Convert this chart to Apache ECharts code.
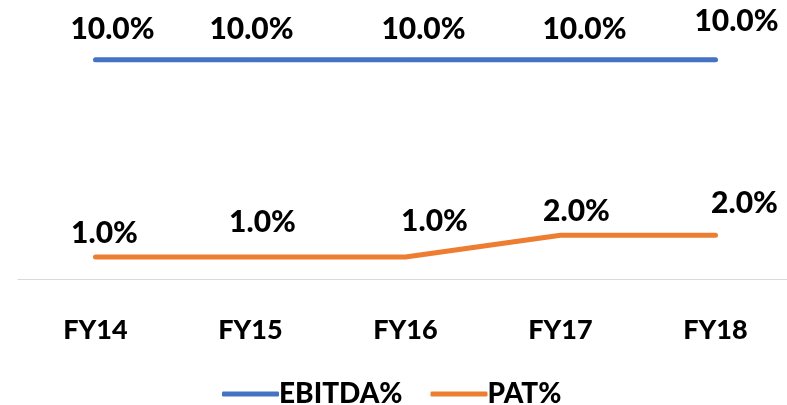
<!DOCTYPE html>
<html>
<head>
<meta charset="utf-8">
<script src="https://cdn.jsdelivr.net/npm/echarts@6/dist/echarts.min.js"></script>
<style>
  html, body { margin: 0; padding: 0; background: #fff; }
  #chart { width: 787px; height: 405px; }
</style>
</head>
<body>
<div id="chart"></div>
<script>
// data
const years = ['FY14', 'FY15', 'FY16', 'FY17', 'FY18']
const ebitdaPct = [10.0, 10.0, 10.0, 10.0, 10.0]
const patPct = [1.0, 1.0, 1.0, 2.0, 2.0]

// hand placed labels in the original, nudges in px from each point
const ebitdaNudge = [[17, -31], [1, -31], [18, -31], [24, -31], [21, -39]]
const patNudge = [[9, -24], [12, -35], [29, -36], [16, -24], [29, -32]]

const FONT = 'Lato'
const WEIGHT = 900
const BLUE = '#4472C4'
const ORANGE = '#ED7D31'

const chart = echarts.init(document.getElementById('chart'))

const makeSeries = (name, values, nudges, color) => ({
  name: name,
  type: 'line',
  data: values.map((v, i) => ({
    value: v,
    label: { offset: nudges[i] }
  })),
  symbol: 'circle',
  symbolSize: 1,
  showSymbol: true,
  itemStyle: { color: color },
  lineStyle: { color: color, width: 5, cap: 'round', join: 'round' },
  label: {
    show: true,
    position: 'inside',
    formatter: p => p.value.toFixed(1) + '%',
    fontFamily: FONT,
    fontWeight: WEIGHT,
    fontSize: 30,
    color: '#000'
  },
  emphasis: { disabled: true },
  animation: false
})

chart.setOption({
  animation: false,
  grid: { left: 18, top: 16, width: 775, height: 263, outerBoundsMode: 'none', containLabel: false },
  xAxis: {
    type: 'category',
    data: years,
    boundaryGap: true,
    axisLine: { lineStyle: { color: '#d9d9d9', width: 1 } },
    axisTick: { show: false },
    axisLabel: {
      margin: 38,
      fontFamily: FONT,
      fontWeight: WEIGHT,
      fontSize: 27,
      lineHeight: 27,
      color: '#000'
    }
  },
  yAxis: {
    type: 'value',
    min: 0,
    max: 12,
    show: false,
    splitLine: { show: false }
  },
  legend: {
    left: 217,
    top: 375,
    itemWidth: 57,
    itemHeight: 5,
    itemGap: 28,
    icon: 'roundRect',
    textStyle: {
      fontFamily: FONT,
      fontWeight: WEIGHT,
      fontSize: 28,
      color: '#000',
      padding: [0, 0, 0, -5]
    },
    data: ['EBITDA%', 'PAT%']
  },
  series: [
    makeSeries('EBITDA%', ebitdaPct, ebitdaNudge, BLUE),
    makeSeries('PAT%', patPct, patNudge, ORANGE)
  ]
})
</script>
</body>
</html>
